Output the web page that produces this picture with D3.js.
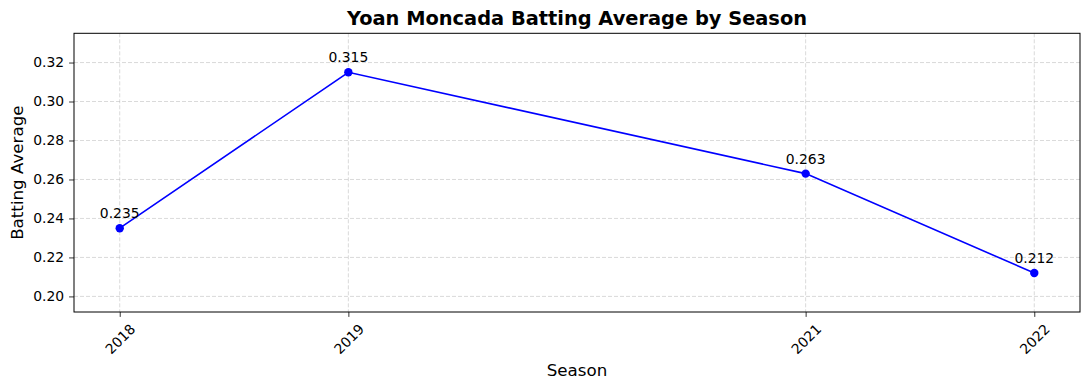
<!DOCTYPE html>
<html>
<head>
<meta charset="utf-8">
<script src="https://cdn.jsdelivr.net/npm/d3@7"></script>
<style>
  body { margin: 0; background: #fff; }
  text { font-family: "DejaVu Sans", sans-serif; fill: #000; }
</style>
</head>
<body>
<div id="chart"></div>
<script>
// season averages
const seasons = [2018, 2019, 2021, 2022];
const averages = [0.235, 0.315, 0.263, 0.212];
const labels = ["0.235", "0.315", "0.263", "0.212"];
const yTicks = [0.20, 0.22, 0.24, 0.26, 0.28, 0.30, 0.32];

const width = 1089;
const height = 390;
const margin = {top: 33.3, right: 9, bottom: 78, left: 74};

const svg = d3.select("#chart").append("svg")
  .attr("width", width)
  .attr("height", height);

const x = d3.scaleLinear()
  .domain([2017.8, 2022.2])
  .range([margin.left, width - margin.right]);

// ylim set to min-0.02 .. max+0.02
const y = d3.scaleLinear()
  .domain([d3.min(averages) - 0.02, d3.max(averages) + 0.02])
  .range([height - margin.bottom, margin.top]);

const data = seasons.map((s, i) => ({season: s, avg: averages[i], label: labels[i]}));

/// grid ///
const grid = svg.append("g")
  .attr("stroke", "#b0b0b0")
  .attr("stroke-opacity", 0.6)
  .attr("stroke-width", 0.8)
  .attr("stroke-dasharray", "4,2");

grid.selectAll(".gx")
  .data(seasons)
  .join("line")
    .attr("x1", d => x(d)).attr("x2", d => x(d))
    .attr("y1", margin.top).attr("y2", height - margin.bottom);

grid.selectAll(".gy")
  .data(yTicks)
  .join("line")
    .attr("x1", margin.left).attr("x2", width - margin.right)
    .attr("y1", d => y(d)).attr("y2", d => y(d));

/// axes ///
const xAxis = svg.append("g")
  .attr("transform", `translate(0,${height - margin.bottom})`)
  .call(d3.axisBottom(x).tickValues(seasons).tickFormat(d3.format("d")).tickSize(4.9).tickPadding(4.9));
xAxis.select(".domain").remove();
xAxis.selectAll(".tick line").attr("stroke", "#000").attr("stroke-width", 0.8);
xAxis.selectAll(".tick text")
  .attr("font-size", 13.9)
  .attr("text-anchor", "middle")
  .attr("dy", null)
  .attr("dominant-baseline", "central")
  .attr("y", 0)
  .attr("transform", "translate(0,27) rotate(-45)");

const yAxis = svg.append("g")
  .attr("transform", `translate(${margin.left},0)`)
  .call(d3.axisLeft(y).tickValues(yTicks).tickFormat(d3.format(".2f")).tickSize(4.9).tickPadding(4.9));
yAxis.select(".domain").remove();
yAxis.selectAll(".tick line").attr("stroke", "#000").attr("stroke-width", 0.8);
yAxis.selectAll(".tick text").attr("font-size", 13.9);

// frame
svg.append("rect")
  .attr("x", margin.left)
  .attr("y", margin.top)
  .attr("width", width - margin.right - margin.left)
  .attr("height", height - margin.bottom - margin.top)
  .attr("fill", "none")
  .attr("stroke", "#000")
  .attr("stroke-width", 1);

/// line + markers ///
const line = d3.line()
  .x(d => x(d.season))
  .y(d => y(d.avg));

svg.append("path")
  .datum(data)
  .attr("fill", "none")
  .attr("stroke", "blue")
  .attr("stroke-width", 1.6)
  .attr("d", line);

svg.append("g")
  .selectAll("circle")
  .data(data)
  .join("circle")
    .attr("cx", d => x(d.season))
    .attr("cy", d => y(d.avg))
    .attr("r", 4.2)
    .attr("fill", "blue");

svg.append("g")
  .selectAll("text")
  .data(data)
  .join("text")
    .attr("x", d => x(d.season))
    .attr("y", d => y(d.avg) - 10)
    .attr("text-anchor", "middle")
    .attr("font-size", 13.9)
    .text(d => d.label);

/// titles ///
svg.append("text")
  .attr("x", (margin.left + width - margin.right) / 2)
  .attr("y", 25)
  .attr("text-anchor", "middle")
  .attr("font-size", 19.4)
  .attr("font-weight", "bold")
  .text("Yoan Moncada Batting Average by Season");

svg.append("text")
  .attr("x", (margin.left + width - margin.right) / 2)
  .attr("y", 376)
  .attr("text-anchor", "middle")
  .attr("font-size", 16.7)
  .text("Season");

svg.append("text")
  .attr("transform", `translate(23,${(margin.top + height - margin.bottom) / 2}) rotate(-90)`)
  .attr("text-anchor", "middle")
  .attr("font-size", 16.7)
  .text("Batting Average");
</script>
</body>
</html>
